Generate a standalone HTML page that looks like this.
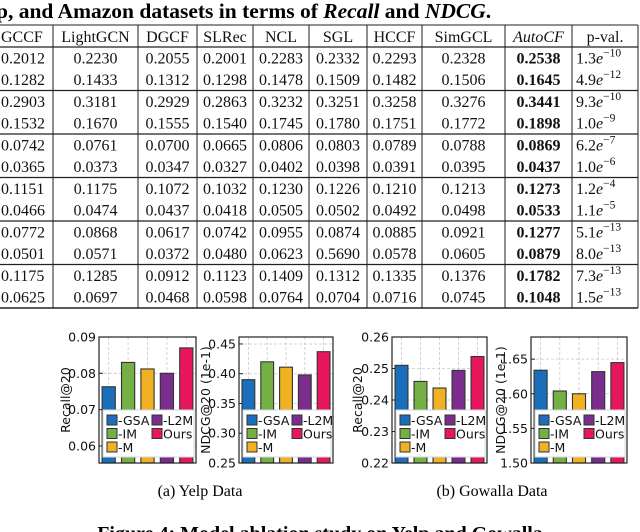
<!DOCTYPE html>
<html><head><meta charset="utf-8"><style>
body{margin:0;background:#fff;}
svg{display:block;}
.tb{font-family:"Liberation Serif",serif;font-size:16px;fill:#111;}
.ax{font-family:"DejaVu Sans","Liberation Sans",sans-serif;font-size:12.5px;fill:#111;}
.lg{font-family:"DejaVu Sans","Liberation Sans",sans-serif;font-size:12.5px;fill:#111;}
</style></head><body>
<svg id="root" width="640" height="532" viewBox="0 0 640 532">
<text x="-4" y="18" font-family="Liberation Serif,serif" font-weight="bold" font-size="21.5">p, and Amazon datasets in terms of <tspan font-style="italic">Recall</tspan> and <tspan font-style="italic">NDCG</tspan>.</text>
<g id="table"></g>
<g id="charts"></g>
<text x="200" y="496" text-anchor="middle" font-family="Liberation Serif,serif" font-size="16">(a)  Yelp Data</text>
<text x="492" y="496" text-anchor="middle" font-family="Liberation Serif,serif" font-size="16">(b)  Gowalla Data</text>
<text x="320" y="540" text-anchor="middle" font-family="Liberation Serif,serif" font-weight="bold" font-size="20">Figure 4: Model ablation study on Yelp and Gowalla</text>
</svg>
<script>
const NS="http://www.w3.org/2000/svg";
function mk(tag,attrs,parent){const e=document.createElementNS(NS,tag);for(const k in attrs)e.setAttribute(k,attrs[k]);parent.appendChild(e);return e;}

// ---- table ----
const headers=["GCCF","LightGCN","DGCF","SLRec","NCL","SGL","HCCF","SimGCL","AutoCF","p-val."];
const rows=[
["0.2012","0.2230","0.2055","0.2001","0.2283","0.2332","0.2293","0.2328","0.2538","1.3","-10"],
["0.1282","0.1433","0.1312","0.1298","0.1478","0.1509","0.1482","0.1506","0.1645","4.9","-12"],
["0.2903","0.3181","0.2929","0.2863","0.3232","0.3251","0.3258","0.3276","0.3441","9.3","-10"],
["0.1532","0.1670","0.1555","0.1540","0.1745","0.1780","0.1751","0.1772","0.1898","1.0","-9"],
["0.0742","0.0761","0.0700","0.0665","0.0806","0.0803","0.0789","0.0788","0.0869","6.2","-7"],
["0.0365","0.0373","0.0347","0.0327","0.0402","0.0398","0.0391","0.0395","0.0437","1.0","-6"],
["0.1151","0.1175","0.1072","0.1032","0.1230","0.1226","0.1210","0.1213","0.1273","1.2","-4"],
["0.0466","0.0474","0.0437","0.0418","0.0505","0.0502","0.0492","0.0498","0.0533","1.1","-5"],
["0.0772","0.0868","0.0617","0.0742","0.0955","0.0874","0.0885","0.0921","0.1277","5.1","-13"],
["0.0501","0.0571","0.0372","0.0480","0.0623","0.5690","0.0578","0.0605","0.0879","8.0","-13"],
["0.1175","0.1285","0.0912","0.1123","0.1409","0.1312","0.1335","0.1376","0.1782","7.3","-13"],
["0.0625","0.0697","0.0468","0.0598","0.0764","0.0704","0.0716","0.0745","0.1048","1.5","-13"]];
const T=document.getElementById('table');
const colX=[-2,53,138,197,253,309,367,422,505,572,638];
const top0=25, headB=47, bot=308, rowH=(bot-headB)/12;
mk('line',{x1:-2,x2:638,y1:top0,y2:top0,stroke:'#222','stroke-width':1},T);
mk('line',{x1:-2,x2:638,y1:headB,y2:headB,stroke:'#222','stroke-width':1.2},T);
for(let g=1;g<=6;g++){const y=headB+g*2*rowH;mk('line',{x1:-2,x2:638,y1:y,y2:y,stroke:'#222','stroke-width':g==6?1.5:1.2},T);}
for(let i=1;i<colX.length;i++){mk('line',{x1:colX[i],x2:colX[i],y1:top0,y2:bot,stroke:'#222','stroke-width':1},T);}
headers.forEach((h,i)=>{const cx=(colX[i]+colX[i+1])/2;const t=mk('text',{x:i==0?1:cx,y:42,'text-anchor':i==0?'start':'middle',class:'tb'},T);t.textContent=h;if(h==="AutoCF")t.setAttribute('font-style','italic');

});
rows.forEach((r,ri)=>{const y=headB+ri*rowH+rowH/2+5.5;
for(let c=0;c<9;c++){const cx=(colX[c]+colX[c+1])/2;const t=mk('text',{x:c==0?1:cx,y:y,'text-anchor':c==0?'start':'middle',class:'tb'},T);t.textContent=r[c];if(c==8)t.setAttribute('font-weight','bold');

}
const t=mk('text',{x:576,y:y,class:'tb'},T);t.textContent=r[9];const e=mk('tspan',{'font-style':'italic'},t);e.textContent='e';const s=mk('tspan',{dy:-7,'font-size':11.5},t);s.textContent=r[10].replace('-','\u2212');

});

// ---- charts ----
const variants=["-GSA","-IM","-M","-L2M","Ours"];
const yelpRecall=[0.0763,0.0830,0.0812,0.0800,0.0870];
const yelpNdcg=[0.390,0.420,0.411,0.398,0.437];
const gowRecall=[0.2510,0.2459,0.2438,0.2494,0.2538];
const gowNdcg=[1.634,1.604,1.600,1.632,1.645];
const ticksYR=["0.06","0.07","0.08","0.09"];
const ticksYN=["0.25","0.30","0.35","0.40","0.45"];
const ticksGR=["0.22","0.23","0.24","0.25","0.26"];
const ticksGN=["1.50","1.55","1.60","1.65"];
const colors=["#1b6fba","#74b043","#f0b123","#7b2d8d","#e8175d"];
const C=document.getElementById('charts');

function chart(name,x0,x1,yTop,yBot,vmin,vmax,vals,ticks,label,labelX){
  const g=mk('g',{},C);
  
  
  const sy=v=>yBot-(v-vmin)/(vmax-vmin)*(yBot-yTop);
  const w=x1-x0, step=w/5, bw=step*0.68;
  const bx=i=>x0+step*(i+0.5);
  ticks.forEach(tk=>{const v=parseFloat(tk),y=sy(v);
    if(y>yTop+1&&y<yBot-1)mk('line',{x1:x0,x2:x1,y1:y,y2:y,stroke:'#c8c8c8','stroke-dasharray':'3,2','stroke-width':0.8},g);
    mk('line',{x1:x0,x2:x0+4,y1:y,y2:y,stroke:'#222','stroke-width':1},g);
    const t=mk('text',{x:x0-3,y:y+4.5,'text-anchor':'end',class:'ax'},g);t.textContent=tk;
    
    });
  for(let i=0;i<5;i++)mk('line',{x1:bx(i),x2:bx(i),y1:yTop,y2:yBot,stroke:'#c8c8c8','stroke-dasharray':'3,2','stroke-width':0.8},g);
  vals.forEach((v,i)=>{const r=mk('rect',{x:bx(i)-bw/2,y:sy(v),width:bw,height:yBot-sy(v),fill:colors[i],stroke:'#333','stroke-width':1.1},g);
    
    });
  // legend
  const lx=x0+4, ly=yTop+73, lw=w-6, lh=47;
  const lg=mk('g',{},g);
  
  
  mk('rect',{x:lx,y:ly,width:lw,height:lh,fill:'#fff',stroke:'#cfd8e0','stroke-width':1},lg);
  const pos=[[0,0],[0,1],[0,2],[1,0],[1,1]];
  variants.forEach((n,i)=>{const px=lx+4+pos[i][0]*45, py=ly+5+pos[i][1]*13.5;
    mk('rect',{x:px,y:py,width:10,height:10,fill:colors[i],stroke:'#333','stroke-width':1},lg);
    const t=mk('text',{x:px+11,y:py+10,class:'lg'},lg);t.textContent=n;
    
    });
  mk('rect',{x:x0,y:yTop,width:w,height:yBot-yTop,fill:'none',stroke:'#222','stroke-width':1.2},g);
  const lt=mk('text',{x:labelX,y:(yTop+yBot)/2,'text-anchor':'middle',class:'ax',transform:`rotate(-90 ${labelX} ${(yTop+yBot)/2})`},g);lt.textContent=label;
  
  
}
chart('chart-yelp-recall',99,196,337,463,0.0553,0.09,yelpRecall,ticksYR,'Recall@20',70);
chart('chart-yelp-ndcg',239,333,337,463,0.25,0.4617,yelpNdcg,ticksYN,'NDCG@20 (1e-1)',210);
chart('chart-gowalla-recall',392,487,337,463,0.22,0.26,gowRecall,ticksGR,'Recall@20',362);
chart('chart-gowalla-ndcg',531,627,337,463,1.50,1.682,gowNdcg,ticksGN,'NDCG@20 (1e-1)',505);
</script>
</body></html>
